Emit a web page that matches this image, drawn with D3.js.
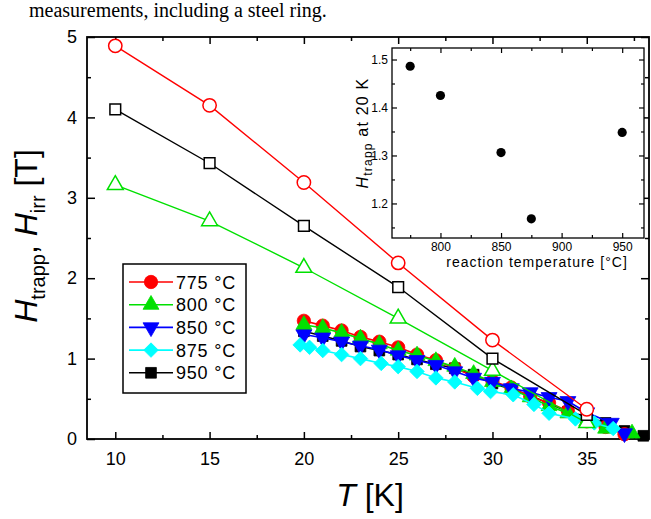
<!DOCTYPE html>
<html>
<head>
<meta charset="utf-8">
<script src="https://cdnjs.cloudflare.com/ajax/libs/d3/7.8.5/d3.min.js"></script>
<style>
  html, body { margin: 0; padding: 0; background: #fff; }
  svg { display: block; }
  text { font-family: "Liberation Sans", Arial, sans-serif; fill: #000; }
</style>
</head>
<body>
<div id="chart"></div>
<script>
// ---------------------------------------------
// data

// H_irr (open symbols), measured at 10..35 K
var irrT      = [10, 15, 20, 25, 30, 35];
var irr775    = [4.89, 4.15, 3.19, 2.19, 1.23, 0.37];
var irr950    = [4.10, 3.43, 2.65, 1.89, 1.00, 0.30];
var irr800    = [3.16, 2.71, 2.13, 1.50, 0.85, 0.20];

// H_trapp (filled symbols)
var trT775  = [20, 21, 22, 23, 24, 25, 26, 27, 28, 29, 30, 31, 32, 33, 34, 35, 36, 37];
var trH775  = [1.47, 1.41, 1.35, 1.27, 1.21, 1.14, 1.05, 0.98, 0.88, 0.78, 0.72, 0.64, 0.53, 0.45, 0.35, 0.22, 0.15, 0.06];
var trT800  = [20, 21, 22, 23, 24, 25, 26, 27, 28, 29, 30, 31, 32, 33, 34, 35, 36, 37.4];
var trH800  = [1.42, 1.38, 1.32, 1.25, 1.18, 1.10, 1.04, 0.97, 0.90, 0.81, 0.71, 0.62, 0.52, 0.41, 0.32, 0.22, 0.13, 0.07];
var trT850  = [20, 21, 22, 23, 24, 25, 26, 27, 28, 29, 30, 31, 32, 33, 34, 35, 36.3, 37];
var trH850  = [1.30, 1.26, 1.21, 1.16, 1.11, 1.04, 0.98, 0.92, 0.84, 0.76, 0.71, 0.63, 0.58, 0.52, 0.47, 0.33, 0.20, 0.07];
var trT875  = [19.8, 20.3, 21, 22, 23, 24.1, 25, 26, 27, 28, 29.2, 29.9, 31.1, 32.2, 33, 34.4, 35.4, 36.4];
var trH875  = [1.17, 1.14, 1.10, 1.05, 1.00, 0.94, 0.90, 0.84, 0.76, 0.71, 0.63, 0.59, 0.55, 0.43, 0.32, 0.25, 0.20, 0.13];
var trT950  = [20, 21, 22, 23, 24, 25, 26, 27, 28, 29, 30, 31, 32, 33, 34, 35, 36, 37, 38];
var trH950  = [1.34, 1.28, 1.22, 1.15, 1.10, 1.05, 0.99, 0.93, 0.88, 0.80, 0.69, 0.62, 0.54, 0.44, 0.34, 0.28, 0.20, 0.10, 0.04];

// inset: H_trapp at 20 K vs reaction temperature
var insetTemp = [775, 800, 850, 875, 950];
var insetH    = [1.486, 1.425, 1.306, 1.168, 1.348];

var legendLabels = ["775 °C", "800 °C", "850 °C", "875 °C", "950 °C"];

var xMajor = [10, 15, 20, 25, 30, 35];
var xMinor = [12.5, 17.5, 22.5, 27.5, 32.5, 37.5];
var yMajor = [0, 1, 2, 3, 4, 5];
var yMinor = [0.5, 1.5, 2.5, 3.5, 4.5];
var ixMajor = [800, 850, 900, 950];
var ixMinor = [775, 825, 875, 925];
var iyMajor = [1.2, 1.3, 1.4, 1.5];
var iyMinor = [1.15, 1.25, 1.35, 1.45];

// ---------------------------------------------
var width = 651, height = 519;

var svg = d3.select("#chart").append("svg")
    .attr("width", width)
    .attr("height", height);

var x = d3.scaleLinear().domain([8.5, 38.3]).range([87, 649]);
var y = d3.scaleLinear().domain([0, 5]).range([439, 37]);

// caption fragment at the very top
svg.append("text")
    .attr("x", 29).attr("y", 17)
    .style("font-family", "'Liberation Serif', 'Times New Roman', serif")
    .style("font-size", "20px")
    .text("measurements, including a steel ring.");

// ---------------
// axes (ticks inward on all four sides)
function cleanAxis(g) {
    g.select(".domain").remove();
    g.selectAll(".tick line").attr("stroke", "#000").attr("stroke-width", 1.5);
}

var axes = svg.append("g");

axes.append("g").attr("transform", "translate(0,439)")
    .call(d3.axisBottom(x).tickValues(xMajor).tickSizeInner(-7).tickSizeOuter(0).tickPadding(13).tickFormat(d3.format("d")))
    .call(cleanAxis)
    .selectAll("text").style("font-size", "18px");
axes.append("g").attr("transform", "translate(0,439)")
    .call(d3.axisBottom(x).tickValues(xMinor).tickSizeInner(-4).tickSizeOuter(0).tickFormat(""))
    .call(cleanAxis);
axes.append("g").attr("transform", "translate(0,37)")
    .call(d3.axisTop(x).tickValues(xMajor).tickSizeInner(-7).tickSizeOuter(0).tickFormat(""))
    .call(cleanAxis);
axes.append("g").attr("transform", "translate(0,37)")
    .call(d3.axisTop(x).tickValues(xMinor).tickSizeInner(-4).tickSizeOuter(0).tickFormat(""))
    .call(cleanAxis);

axes.append("g").attr("transform", "translate(87,0)")
    .call(d3.axisLeft(y).tickValues(yMajor).tickSizeInner(-8).tickSizeOuter(0).tickPadding(10).tickFormat(d3.format("d")))
    .call(cleanAxis)
    .selectAll("text").style("font-size", "18px");
axes.append("g").attr("transform", "translate(87,0)")
    .call(d3.axisLeft(y).tickValues(yMinor).tickSizeInner(-4).tickSizeOuter(0).tickFormat(""))
    .call(cleanAxis);
axes.append("g").attr("transform", "translate(649,0)")
    .call(d3.axisRight(y).tickValues(yMajor).tickSizeInner(-8).tickSizeOuter(0).tickFormat(""))
    .call(cleanAxis);
axes.append("g").attr("transform", "translate(649,0)")
    .call(d3.axisRight(y).tickValues(yMinor).tickSizeInner(-4).tickSizeOuter(0).tickFormat(""))
    .call(cleanAxis);

svg.append("rect")
    .attr("x", 87).attr("y", 37)
    .attr("width", 649 - 87).attr("height", 439 - 37)
    .attr("fill", "none").attr("stroke", "#000").attr("stroke-width", 1.8);

// axis titles
var xt = svg.append("text")
    .attr("x", 370).attr("y", 506)
    .attr("text-anchor", "middle")
    .style("font-size", "32px");
xt.append("tspan").style("font-style", "italic").text("T");
xt.append("tspan").text(" [K]");

var yt = svg.append("text")
    .attr("transform", "translate(37,236) rotate(-90)")
    .attr("text-anchor", "middle")
    .style("font-size", "32px");
yt.append("tspan").style("font-style", "italic").text("H");
yt.append("tspan").attr("dy", 8).style("font-size", "20px").text("trapp");
yt.append("tspan").attr("dy", -8).text(", ");
yt.append("tspan").style("font-style", "italic").text("H");
yt.append("tspan").attr("dy", 8).style("font-size", "20px").text("irr");
yt.append("tspan").attr("dy", -8).text(" [T]");

// ---------------
// series
var sym = {
    circle:  d3.symbol().type(d3.symbolCircle).size(140),
    up:      d3.symbol().type(d3.symbolTriangle).size(110),
    down:    d3.symbol().type(d3.symbolTriangle).size(110),
    diamond: d3.symbol().type(d3.symbolSquare).size(105),
    square:  d3.symbol().type(d3.symbolSquare).size(115)
};
var symRot = { circle: 0, up: 0, down: 180, diamond: 45, square: 0 };

var line = d3.line()
    .x(function(d) { return x(d[0]); })
    .y(function(d) { return y(d[1]); });

function drawSeries(ts, hs, color, shape, open) {
    var pts = ts.map(function(t, i) { return [t, hs[i]]; });
    var g = svg.append("g");
    g.append("path")
        .datum(pts)
        .attr("d", line)
        .attr("fill", "none")
        .attr("stroke", color)
        .attr("stroke-width", open ? 1.4 : 1.6);
    g.selectAll("path.pt")
        .data(pts)
        .enter().append("path")
        .attr("class", "pt")
        .attr("d", sym[shape]())
        .attr("transform", function(d) {
            return "translate(" + x(d[0]) + "," + y(d[1]) + ") rotate(" + symRot[shape] + ")";
        })
        .attr("fill", open ? "#fff" : color)
        .attr("stroke", color)
        .attr("stroke-width", open ? 1.5 : 0.8);
}

var colors = ["#ff0000", "#00e000", "#0000ff", "#00ffff", "#000000"];
var shapes = ["circle", "up", "down", "diamond", "square"];

drawSeries(trT950, trH950, colors[4], "square", false);
drawSeries(trT775, trH775, colors[0], "circle", false);
drawSeries(trT800, trH800, colors[1], "up", false);
drawSeries(trT850, trH850, colors[2], "down", false);
drawSeries(trT875, trH875, colors[3], "diamond", false);

drawSeries(irrT, irr800, colors[1], "up", true);
drawSeries(irrT, irr950, colors[4], "square", true);
drawSeries(irrT, irr775, colors[0], "circle", true);

// ---------------
// legend
var leg = svg.append("g");
leg.append("rect")
    .attr("x", 123).attr("y", 264)
    .attr("width", 123).attr("height", 129)
    .attr("fill", "#fff").attr("stroke", "#000").attr("stroke-width", 1.5);

legendLabels.forEach(function(lab, i) {
    var ly = 282 + i * 22.7;
    leg.append("line")
        .attr("x1", 129).attr("x2", 173)
        .attr("y1", ly).attr("y2", ly)
        .attr("stroke", colors[i]).attr("stroke-width", 1.6);
    leg.append("path")
        .attr("d", sym[shapes[i]]())
        .attr("transform", "translate(151," + ly + ") rotate(" + symRot[shapes[i]] + ")")
        .attr("fill", colors[i]).attr("stroke", colors[i]).attr("stroke-width", 0.8);
    leg.append("text")
        .attr("x", 176).attr("y", ly + 6.5)
        .style("font-size", "18px")
        .style("letter-spacing", "0.8px")
        .text(lab);
});

// ---------------
// inset
var ix = d3.scaleLinear().domain([760, 968]).range([392, 644]);
var iy = d3.scaleLinear().domain([1.128, 1.524]).range([238, 48]);

var ins = svg.append("g");
ins.append("rect")
    .attr("x", 392).attr("y", 48)
    .attr("width", 644 - 392).attr("height", 238 - 48)
    .attr("fill", "#fff");

function insetAxis(g) {
    g.select(".domain").remove();
    g.selectAll(".tick line").attr("stroke", "#000").attr("stroke-width", 1.2);
    g.selectAll("text").style("font-size", "12px");
}

ins.append("g").attr("transform", "translate(0,238)")
    .call(d3.axisBottom(ix).tickValues(ixMajor).tickSizeInner(-5).tickSizeOuter(0).tickPadding(4))
    .call(insetAxis);
ins.append("g").attr("transform", "translate(0,238)")
    .call(d3.axisBottom(ix).tickValues(ixMinor).tickSizeInner(-3).tickSizeOuter(0).tickFormat(""))
    .call(insetAxis);
ins.append("g").attr("transform", "translate(0,48)")
    .call(d3.axisTop(ix).tickValues(ixMajor).tickSizeInner(-5).tickSizeOuter(0).tickFormat(""))
    .call(insetAxis);
ins.append("g").attr("transform", "translate(0,48)")
    .call(d3.axisTop(ix).tickValues(ixMinor).tickSizeInner(-3).tickSizeOuter(0).tickFormat(""))
    .call(insetAxis);
ins.append("g").attr("transform", "translate(392,0)")
    .call(d3.axisLeft(iy).tickValues(iyMajor).tickSizeInner(-5).tickSizeOuter(0).tickPadding(4).tickFormat(d3.format(".1f")))
    .call(insetAxis);
ins.append("g").attr("transform", "translate(392,0)")
    .call(d3.axisLeft(iy).tickValues(iyMinor).tickSizeInner(-3).tickSizeOuter(0).tickFormat(""))
    .call(insetAxis);
ins.append("g").attr("transform", "translate(644,0)")
    .call(d3.axisRight(iy).tickValues(iyMajor).tickSizeInner(-5).tickSizeOuter(0).tickFormat(""))
    .call(insetAxis);
ins.append("g").attr("transform", "translate(644,0)")
    .call(d3.axisRight(iy).tickValues(iyMinor).tickSizeInner(-3).tickSizeOuter(0).tickFormat(""))
    .call(insetAxis);

ins.append("rect")
    .attr("x", 392).attr("y", 48)
    .attr("width", 644 - 392).attr("height", 238 - 48)
    .attr("fill", "none").attr("stroke", "#000").attr("stroke-width", 1.3);

ins.selectAll("circle.dot")
    .data(insetTemp)
    .enter().append("circle")
    .attr("class", "dot")
    .attr("cx", function(d) { return ix(d); })
    .attr("cy", function(d, i) { return iy(insetH[i]); })
    .attr("r", 4.6)
    .attr("fill", "#000");

ins.append("text")
    .attr("x", 537).attr("y", 267)
    .attr("text-anchor", "middle")
    .style("font-size", "14px")
    .style("letter-spacing", "1px")
    .text("reaction temperature [°C]");

var iyt = ins.append("text")
    .attr("transform", "translate(368,133) rotate(-90)")
    .attr("text-anchor", "middle")
    .style("font-size", "16px")
    .style("letter-spacing", "1.2px");
iyt.append("tspan").style("font-style", "italic").text("H");
iyt.append("tspan").attr("dy", 4).style("font-size", "12px").text("trapp");
iyt.append("tspan").attr("dy", -4).text(" at 20 K");
</script>
</body>
</html>
